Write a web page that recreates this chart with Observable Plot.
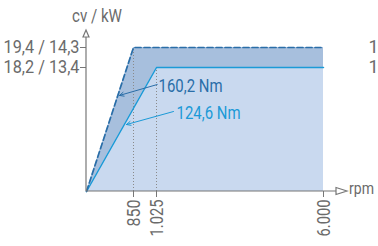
<!DOCTYPE html>
<html><head><meta charset="utf-8">
<script src="https://cdn.jsdelivr.net/npm/d3@7"></script>
<script src="https://cdn.jsdelivr.net/npm/@observablehq/plot@0.6"></script>
<style>
body{margin:0;background:#fff;}
svg{font-family:Roboto,"Liberation Sans",sans-serif;}
</style></head><body>
<div id="chart"></div>
<script>
// Data
const rpmTicks = [850, 1025, 6000];
const rpmTickLabels = ["850", "1.025", "6.000"];
const powerTicks = [18.2, 19.4];
const powerTickLabels = ["18,2 / 13,4", "19,4 / 14,3"];
const rightLabels = ["1", "1"];
const highRpm = [0, 850, 6000];
const highPower = [0, 19.4, 19.4];
const lowRpm = [0, 1025, 6000];
const lowPower = [0, 18.2, 18.2];
const torqueLabels = ["160,2 Nm", "124,6 Nm"];
// annotation anchor points (rpm, cv): text position, leader start, leader tip
const annoText = [[1085, 15.56], [1621, 11.6]];
const annoFrom = [[1045, 15.7], [1531, 11.74]];
const annoTo = [[597, 14.1], [723, 9.83]];

// schematic (non-proportional) axes: piecewise-linear mapping to drawing units
const xs = d3.scaleLinear().domain([0, 850, 1025, 6000]).range([0, 47, 70, 237]);
const ys = d3.scaleLinear().domain([0, 18.2, 19.4]).range([0, 124, 144]);

const high = highRpm.map((x, i) => ({x: xs(x), y: ys(highPower[i])}));
const low = lowRpm.map((x, i) => ({x: xs(x), y: ys(lowPower[i])}));
const colors = ["#2a6ea8", "#1b9ad7"];
const anno = torqueLabels.map((t, i) => ({
  t, c: colors[i],
  tx: xs(annoText[i][0]), ty: ys(annoText[i][1]),
  x1: xs(annoFrom[i][0]), y1: ys(annoFrom[i][1]),
  x2: xs(annoTo[i][0]), y2: ys(annoTo[i][1])
}));
const guides = [{x: xs(highRpm[1]), y: ys(highPower[1])}, {x: xs(lowRpm[1]), y: ys(lowPower[1])}];
const xTickPos = rpmTicks.map(xs);
const yTickPos = powerTicks.map(ys);

const gray = "#6b6b6b";
const chart = Plot.plot({
  width: 378, height: 246,
  marginLeft: 86, marginRight: 55, marginTop: 47, marginBottom: 55,
  style: {fontSize: "17px", color: gray, background: "#fff"},
  x: {domain: [0, xs(6000)]},
  y: {domain: [0, ys(19.4)]},
  marks: [
    Plot.areaY(high, {x: "x", y: "y", fill: "#a7bfdd"}),
    Plot.areaY(low, {x: "x", y: "y", fill: "#c9d9ef"}),
    Plot.ruleX(guides, {x: "x", y1: 0, y2: "y", stroke: "#8a8a8a", strokeDasharray: "1,2", strokeWidth: 1}),
    Plot.line(low, {x: "x", y: "y", stroke: colors[1], strokeWidth: 1.5}),
    Plot.line(high, {x: "x", y: "y", stroke: colors[0], strokeWidth: 1.7, strokeDasharray: "6,3"}),
    Plot.arrow(anno, {x1: "x1", y1: "y1", x2: "x2", y2: "y2", stroke: "c", strokeWidth: 1, headLength: 7, headAngle: 50}),
    Plot.text(anno, {x: "tx", y: "ty", text: "t", fill: "c", textAnchor: "start", className: "anno"}),
    Plot.axisX(xTickPos, {tickFormat: d => rpmTickLabels[xTickPos.indexOf(d)], tickRotate: -90, tickSize: 6, tickPadding: 2, stroke: "#777", fill: gray, className: "xt"}),
    Plot.axisY(yTickPos, {tickFormat: d => powerTickLabels[yTickPos.indexOf(d)], tickSize: 6, tickPadding: 1, stroke: "#777", fill: gray, className: "yt"}),
    Plot.text(yTickPos, {x: xs(6000), y: d => d, text: (d, i) => rightLabels[i], dx: 55, textAnchor: "end", fill: gray, className: "rl"})
  ]
});
document.getElementById("chart").append(chart);

// axis lines with open triangle arrowheads
const svg = d3.select(chart);
const g = svg.append("g").attr("stroke", "#777").attr("fill", "none").attr("stroke-width", 1.2);
g.append("line").attr("x1", 86).attr("x2", 86).attr("y1", 191).attr("y2", 37);
g.append("path").attr("d", "M86,30 L89,37 L83,37 Z").attr("fill", "#fff");
g.append("line").attr("x1", 86).attr("x2", 336).attr("y1", 191).attr("y2", 191);
g.append("path").attr("d", "M347,191 L336,187.5 L336,194.5 Z").attr("fill", "#fff");
svg.append("text").attr("class", "cv").attr("x", 97).attr("y", 17).attr("text-anchor", "middle").attr("dominant-baseline", "middle")
  .attr("fill", gray).text("cv / kW");
svg.append("text").attr("class", "rpm").attr("x", 349).attr("y", 190).attr("text-anchor", "start").attr("dominant-baseline", "middle")
  .attr("fill", gray).text("rpm");

// emulate a condensed typeface: fixed size, glyphs compressed to a target width
function condense(sel, size, widths) {
  svg.selectAll(sel).each(function (d, i) {
    this.style.fontSize = size + "px";
    const w = typeof widths === "function" ? widths(this.textContent) : widths;
    if (w) { this.setAttribute("textLength", w); this.setAttribute("lengthAdjust", "spacingAndGlyphs"); }
  });
}
condense(".anno text", 19, 64);
condense(".yt text", 18, 76);
condense(".xt text", 19, s => s.length > 3 ? 37 : 27);
condense("text.cv", 18.5, 50);
condense("text.rpm", 16.5, 25);
condense(".rl text", 18, null);
</script>
</body></html>
